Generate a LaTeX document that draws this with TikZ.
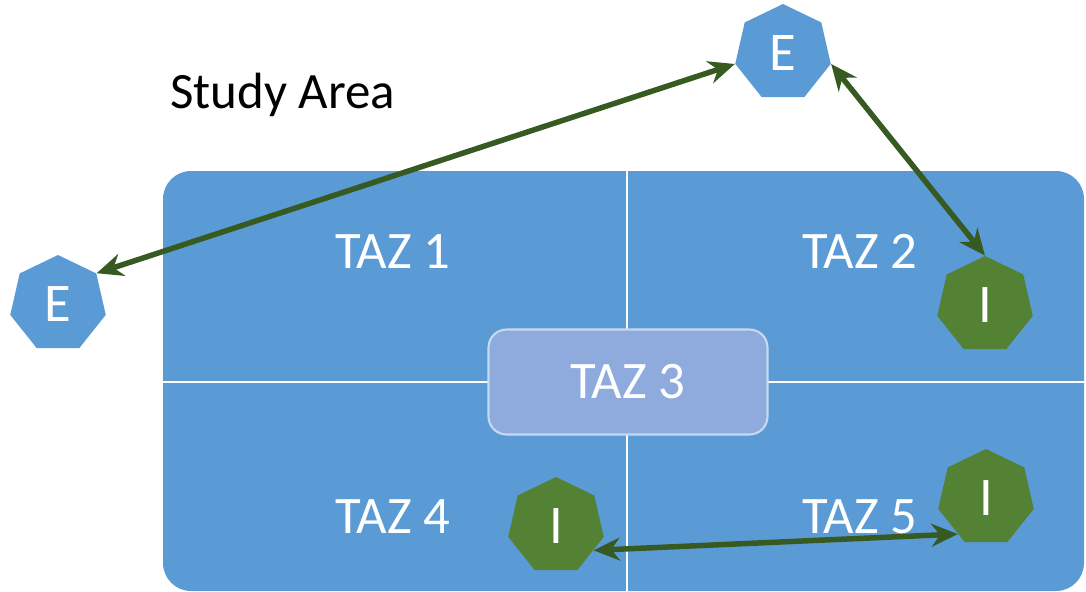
\documentclass[tikz,border=0pt]{standalone}
\usepackage{fontspec}
\setmainfont{Carlito}
\usepackage{tikz}
\usetikzlibrary{arrows,arrows.meta,shapes,shapes.geometric}
\usetikzlibrary{positioning}
\definecolor{tazblue}{HTML}{5B9BD5}
\definecolor{tazlight}{HTML}{8FAADC}
\definecolor{tazedge}{HTML}{C5D9F0}
\definecolor{zonegreen}{HTML}{548235}
\definecolor{linkgreen}{HTML}{375A22}
\tikzstyle{extnode} = [regular polygon, regular polygon sides=7, minimum size=1.96cm, inner sep=0pt, fill=tazblue, text=white, font=\fontsize{31}{31}\selectfont]
\tikzstyle{intnode} = [extnode, fill=zonegreen]
\tikzstyle{tazlabel} = [anchor=base, inner sep=0pt, text=white, font=\fontsize{30}{30}\selectfont]
\tikzstyle{link} = [line width=0.11cm, draw=linkgreen, {Stealth[length=15pt,width=13pt]}-{Stealth[length=15pt,width=13pt]}]

\begin{document}
\begin{tikzpicture}[x=0.02cm, y=-0.02cm]
                        \useasboundingbox (0,0) rectangle (1086,592);
                        % study area and its zones
                        \fill[tazblue, rounded corners=0.56cm] (163,171) rectangle (1084,591);
                        \draw[white, line width=0.6pt] (627,171) -- (627,591);
                        \draw[white, line width=0.6pt] (163,382) -- (1084,382);
                        \node (title) [anchor=base west, inner sep=0pt, font=\fontsize{29}{29}\selectfont] at (170,108) {Study Area};
                        \node (taz1) [tazlabel] at (393,268) {TAZ 1};
                        \node (taz2) [tazlabel] at (860,268) {TAZ 2};
                        \node (taz4) [tazlabel] at (393,533) {TAZ 4};
                        \node (taz5) [tazlabel] at (860,533) {TAZ 5};
                        \node (taz3) [draw=tazedge, line width=1.2pt, fill=tazlight, rounded corners=0.36cm, minimum width=5.58cm, minimum height=2.1cm, text=white, font=\fontsize{30}{30}\selectfont] at (628,382) {TAZ 3};
                        % external and internal stations
                        \node (etop) [extnode] at (783,53) {E};
                        \node (eleft) [extnode] at (58,304) {E};
                        \node (i2) [intnode] at (985,305) {I};
                        \node (i4) [intnode] at (556,526) {I};
                        \node (i5) [intnode] at (986,498) {I};
                        \draw[link] (eleft.corner 7) -- (etop.corner 3);
                        \draw[link] (etop.corner 6) -- (i2.corner 1);
                        \draw[link] (i4.-33) -- (i5.-128);
                    \end{tikzpicture}
\end{document}
